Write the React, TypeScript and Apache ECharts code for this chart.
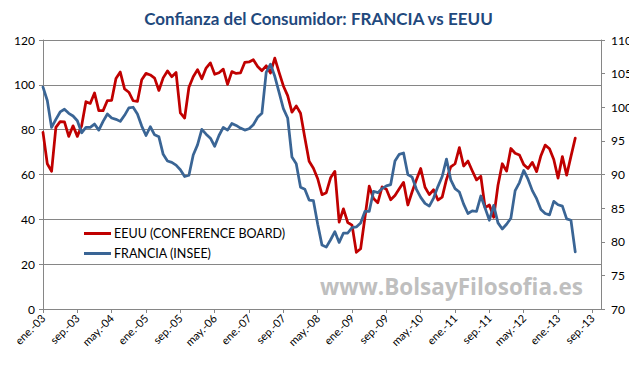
import React, { useEffect, useRef } from "react";
import * as echarts from "echarts";

const MONTHS = ["ene.", "feb.", "mar.", "abr.", "may.", "jun.", "jul.", "ago.", "sep.", "oct.", "nov.", "dic."];
const START_YEAR = 3; // 2003
const N_CATEGORIES = 131; // ene.-03 .. nov.-13

const TITLE = "Confianza del Consumidor: FRANCIA vs EEUU";
const NAME_US = "EEUU (CONFERENCE BOARD)";
const NAME_FR = "FRANCIA (INSEE)";
const WATERMARK = "www.BolsayFilosofia.es";

// Conference Board (left axis), monthly ene.-03 .. may.-13
const EEUU = [
  78.8, 64.8, 61.4, 81.0, 83.6, 83.5, 77.0, 81.7, 77.0, 81.7, 92.5, 91.7,
  96.4, 88.5, 88.5, 93.0, 93.1, 102.8, 105.7, 98.2, 96.7, 92.9, 92.6, 102.3,
  105.1, 104.4, 103.0, 97.5, 103.1, 106.2, 103.6, 105.5, 87.5, 85.2, 98.9, 103.6,
  106.8, 102.7, 107.5, 109.8, 104.7, 105.4, 107.0, 100.2, 105.9, 105.1, 105.3, 110.0,
  110.2, 111.2, 108.2, 106.3, 108.5, 105.3, 111.9, 105.6, 99.5, 95.2, 87.8, 90.6,
  87.3, 76.4, 65.9, 62.8, 58.1, 51.0, 51.9, 58.5, 61.4, 38.8, 44.7, 38.6,
  37.4, 25.3, 26.9, 40.8, 54.8, 49.3, 47.4, 54.5, 53.4, 48.7, 50.6, 53.6,
  56.5, 46.4, 52.3, 57.7, 62.7, 54.3, 51.0, 53.2, 48.6, 49.9, 57.8, 63.4,
  64.8, 72.0, 63.8, 66.0, 61.7, 57.6, 59.2, 45.2, 46.4, 40.9, 55.2, 64.8,
  61.5, 71.6, 69.5, 68.7, 64.4, 62.7, 65.4, 61.3, 68.4, 73.1, 71.5, 66.7,
  58.4, 68.0, 59.7, 68.1, 76.2,
];

// INSEE (right axis), monthly ene.-03 .. may.-13
const FRANCIA = [
  103.0, 101.0, 97.0, 98.2, 99.3, 99.7, 99.1, 98.7, 98.0, 96.2, 97.0, 97.0,
  97.5, 96.6, 97.9, 99.0, 98.4, 98.2, 97.9, 98.8, 99.9, 100.0, 99.0, 97.2,
  95.8, 97.1, 95.9, 95.6, 93.0, 92.0, 91.8, 91.4, 90.7, 89.7, 89.9, 92.9,
  94.4, 96.7, 96.0, 95.4, 94.2, 95.8, 97.0, 96.6, 97.6, 97.3, 96.9, 96.6,
  96.8, 97.4, 98.5, 99.1, 105.2, 106.4, 104.6, 102.2, 99.8, 98.4, 92.6, 91.6,
  88.1, 87.8, 86.2, 86.1, 82.6, 79.5, 79.2, 80.3, 81.5, 79.9, 81.3, 81.3,
  82.1, 82.2, 82.8, 84.5, 84.5, 87.5, 87.3, 87.9, 88.3, 88.5, 92.0, 93.0,
  93.2, 90.0, 89.6, 87.8, 86.6, 85.7, 85.3, 86.5, 88.2, 89.7, 92.3, 89.2,
  87.9, 87.4, 85.6, 84.2, 84.6, 84.5, 86.8, 85.0, 83.2, 85.4, 82.8, 81.9,
  82.6, 83.5, 87.6, 88.8, 90.6, 89.3, 87.6, 86.4, 84.8, 84.2, 84.0, 86.0,
  85.5, 85.3, 83.4, 83.2, 78.5,
];

const CATEGORIES: string[] = [];
for (let i = 0; i < N_CATEGORIES; i++) {
  const yy = START_YEAR + Math.floor(i / 12);
  CATEGORIES.push(MONTHS[i % 12] + "-" + String(yy).padStart(2, "0"));
}

const FONT = "Lato, 'Open Sans', sans-serif";

export default function App() {
  const ref = useRef<HTMLDivElement>(null);
  useEffect(() => {
    if (!ref.current) return;
    const chart = echarts.init(ref.current, undefined, { renderer: "svg" });
    chart.setOption({
      animation: false,
      backgroundColor: "#ffffff",
      textStyle: { fontFamily: FONT },
      title: {
        text: TITLE,
        left: "center",
        top: 5,
        textStyle: { fontFamily: FONT, fontSize: 17, fontWeight: "bold", color: "#1F497D" },
      },
      legend: {
        orient: "vertical",
        left: 79,
        top: 222,
        itemWidth: 27,
        itemHeight: 3,
        itemGap: 7,
        icon: "rect",
        data: [NAME_US, NAME_FR],
        textStyle: { fontFamily: FONT, fontSize: 12.5, color: "#000000", padding: [0, 0, 0, -2] },
      },
      grid: { left: 43, right: 36, top: 40, bottom: 64, containLabel: false },
      xAxis: {
        type: "category",
        data: CATEGORIES,
        boundaryGap: false,
        axisLine: { lineStyle: { color: "#868686", width: 1 } },
        axisTick: { interval: 7, length: 4, lineStyle: { color: "#868686" } },
        axisLabel: { interval: 7, rotate: 45, fontSize: 11, color: "#000000", margin: 7, fontFamily: FONT },
        splitLine: { show: false },
      },
      yAxis: [
        {
          type: "value",
          min: 0,
          max: 120,
          interval: 20,
          position: "left",
          axisLine: { show: true, lineStyle: { color: "#868686" } },
          axisTick: { show: true, length: 4, lineStyle: { color: "#868686" } },
          axisLabel: { fontSize: 12, color: "#000000", margin: 8, fontFamily: FONT },
          splitLine: { show: true, lineStyle: { color: "#868686", width: 1 } },
        },
        {
          type: "value",
          min: 70,
          max: 110,
          interval: 5,
          position: "right",
          axisLine: { show: true, lineStyle: { color: "#868686" } },
          axisTick: { show: true, length: 4, lineStyle: { color: "#868686" } },
          axisLabel: { fontSize: 12, color: "#000000", margin: 10, fontFamily: FONT },
          splitLine: { show: false },
        },
      ],
      graphic: [
        {
          type: "text",
          left: 320,
          top: 275,
          silent: true,
          style: {
            text: WATERMARK,
            fill: "#BFBFBF",
            fontSize: 22.5,
            fontWeight: "bold",
            fontFamily: "'Open Sans', sans-serif",
          },
        },
      ],
      series: [
        {
          name: NAME_US,
          type: "line",
          yAxisIndex: 0,
          data: EEUU,
          showSymbol: false,
          symbol: "none",
          color: "#C00000",
          lineStyle: { color: "#C00000", width: 2.75, join: "round", cap: "round" },
        },
        {
          name: NAME_FR,
          type: "line",
          yAxisIndex: 1,
          data: FRANCIA,
          showSymbol: false,
          symbol: "none",
          color: "#3A6595",
          lineStyle: { color: "#3A6595", width: 2.75, join: "round", cap: "round" },
        },
      ],
    });
    return () => chart.dispose();
  }, []);
  return <div ref={ref} style={{ width: 637, height: 373, margin: -8 }} />;
}
